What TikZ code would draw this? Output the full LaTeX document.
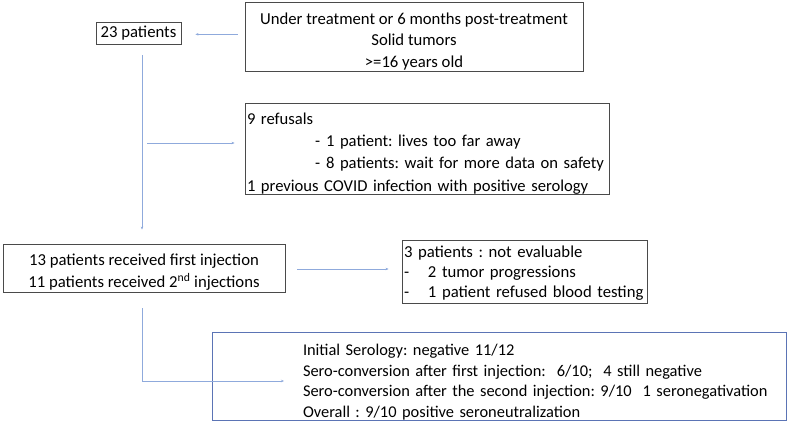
\documentclass[tikz,border=0pt]{standalone}
\usepackage{fontspec}
\setmainfont{Carlito}
\usetikzlibrary{arrows.meta}
\definecolor{lineblue}{HTML}{8FAADC}
\definecolor{boxblue}{HTML}{5B74B5}
\definecolor{boxgray}{HTML}{4A4A4A}
\newcommand{\lowr}[1]{\rule{0pt}{\dimexpr 12pt+#1\relax}}
\tikzset{
  box/.style={draw=boxgray, line width=0.9pt, inner sep=0pt, font=\fontsize{16.7}{21}\selectfont},
  conn/.style={draw=lineblue, line width=0.8pt, -{Stealth[length=3pt,width=2.5pt]}},
}
\begin{document}
\frenchspacing
\begin{tikzpicture}[x=1pt,y=-1pt]
\useasboundingbox (0,0) rectangle (790,429);
\node[box, minimum width=85pt, minimum height=22pt] (p23) at (138.5,33) {23 patients};
\node[box, minimum width=338pt, minimum height=68.5pt, align=center,
  font=\fontsize{16.7}{21.5}\selectfont] (crit) at (414,37)
  {\lowr{8pt}Under treatment or 6 months post-treatment\\Solid tumors\\>=16 years old};
\node[box, minimum width=364pt, minimum height=91pt, text width=360pt, align=left,
  font=\fontsize{16.6}{22.3}\selectfont] (ref) at (427,148.5)
  {\lowr{9pt}9 refusals\\
   \hspace*{68pt}-\hspace{6pt}1 patient: lives too far away\\
   \hspace*{68pt}-\hspace{6pt}8 patients: wait for more data on safety\\
   1 previous COVID infection with positive serology};
\node[box, minimum width=282pt, minimum height=48pt, align=center,
  font=\fontsize{16.7}{22}\selectfont] (inj) at (144,268)
  {\lowr{8pt}13 patients received first injection\\11 patients received 2\textsuperscript{nd} injections};
\node[box, minimum width=245pt, minimum height=63pt, text width=241pt, align=left,
  font=\fontsize{16.7}{20}\selectfont] (ne) at (524.5,271.5)
  {\lowr{2pt}3 patients : not evaluable\\
   \makebox[24pt][l]{-}2 tumor progressions\\
   \makebox[24pt][l]{-}1 patient refused blood testing};
\node[box, draw=boxblue, minimum width=574pt, minimum height=81pt, text width=570pt, align=left,
  font=\fontsize{16.4}{20.5}\selectfont] (bot) at (499,376.5)
  {\lowr{11pt}\hspace*{89pt}Initial Serology: negative 11/12\\
   \hspace*{89pt}Sero-conversion after first injection:\ \ 6/10;\ \ 4 still negative\\
   \hspace*{89pt}Sero-conversion after the second injection: 9/10\ \ 1 seronegativation\\
   \hspace*{89pt}Overall : 9/10 positive seroneutralization};
\coordinate (trunk) at (142,0);
\coordinate (b1) at (147,143);
\coordinate (b2) at (284,381);
\draw[conn] ([xshift=-7pt]crit.west |- 0,34.3) -- ([xshift=14pt]p23.east |- 0,34.3);
\draw[conn] ([yshift=-11pt]p23.south -| trunk) -- ([yshift=14pt]inj.north -| trunk);
\draw[conn] (b1) -- ([xshift=-10pt]b1 -| ref.west);
\draw[conn] ([xshift=12pt]inj.east |- 0,269) -- ([xshift=-13pt]ne.west |- 0,269);
\draw[conn] ([yshift=-16pt]inj.south -| trunk) |- (b2);
\end{tikzpicture}
\end{document}
